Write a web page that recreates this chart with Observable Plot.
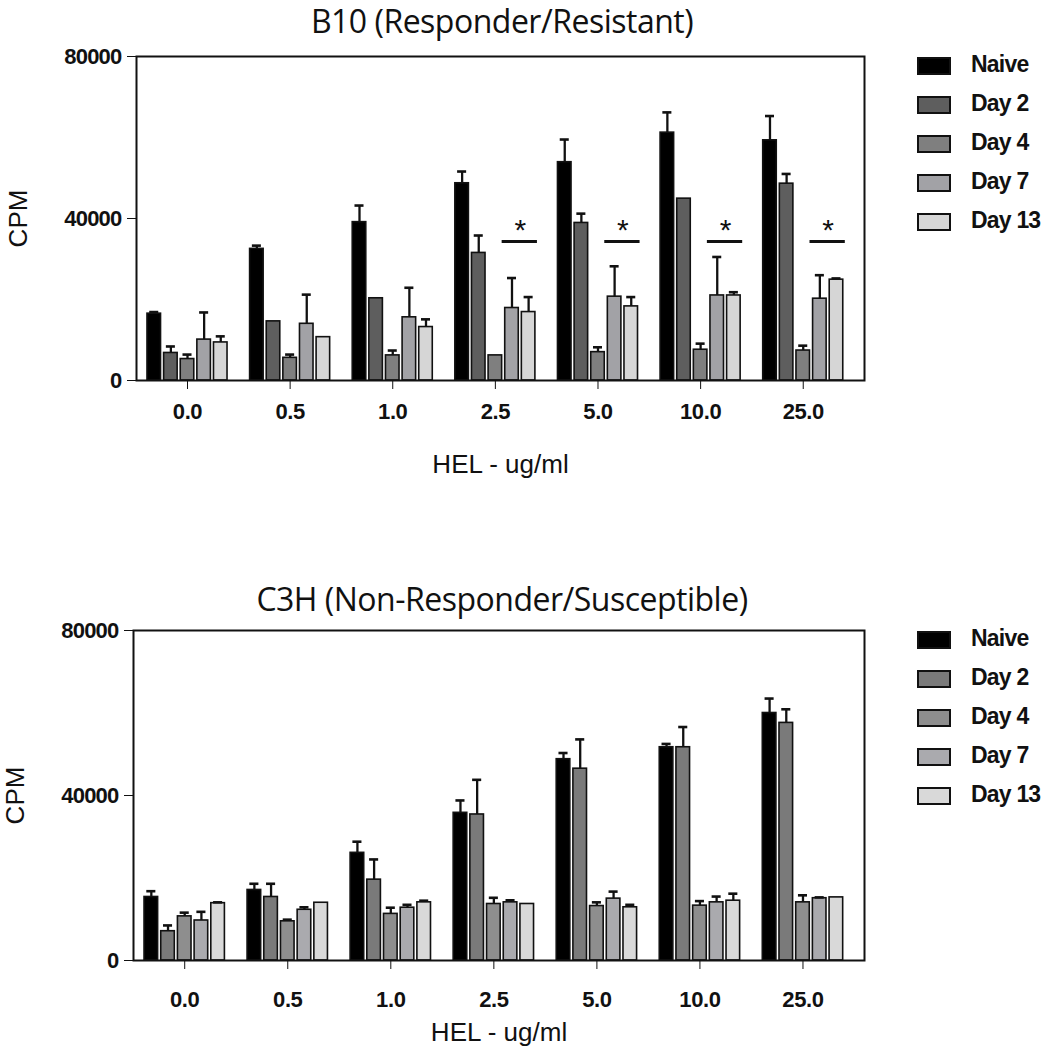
<!DOCTYPE html>
<html><head><meta charset="utf-8">
<script src="https://cdn.jsdelivr.net/npm/d3@7"></script>
<script src="https://cdn.jsdelivr.net/npm/@observablehq/plot@0.6"></script>
<style>
body{margin:0;background:#fff;width:1041px;height:1050px;position:relative;overflow:hidden;font-family:"Liberation Sans",Arial,sans-serif;color:#111}
.title{position:absolute;left:0;width:1004px;text-align:center;font-family:"Open Sans";font-size:32px;color:#111;line-height:42px;letter-spacing:-0.5px}
.chart{position:absolute;left:0}
.legend{position:absolute;left:917px}
.row{position:absolute;left:0;height:18px;white-space:nowrap}
.sw{position:absolute;left:0;top:0;width:30px;height:14px;border:2px solid #111}
.lab{position:absolute;left:54px;top:-6px;font:bold 23px "Liberation Sans";letter-spacing:-0.8px;color:#111}
svg g[aria-label="y-axis tick label"] text{font-weight:bold;font-size:22px;letter-spacing:-0.8px}
svg g[aria-label="x-axis tick label"] text{font-weight:bold;font-size:22px;letter-spacing:-0.4px}
svg g[aria-label="y-axis label"] text, svg g[aria-label="x-axis label"] text{font-size:26px;font-weight:normal}
</style>
</head><body>
<script>
// ---- data ----
const groups = ["0.0", "0.5", "1.0", "2.5", "5.0", "10.0", "25.0"];
const series = ["Naive", "Day 2", "Day 4", "Day 7", "Day 13"];
const yTicks = [0, 40000, 80000];

// B10 (Responder/Resistant): mean CPM and SEM per HEL dose
const b10Naive = [16500, 32500, 39100, 48700, 53900, 61200, 59300];
const b10Day2  = [6800, 14600, 20300, 31500, 38900, 44900, 48600];
const b10Day4  = [5300, 5600, 6200, 6200, 7000, 7600, 7400];
const b10Day7  = [10100, 14000, 15600, 17900, 20700, 21000, 20200];
const b10Day13 = [9400, 10700, 13200, 16900, 18300, 21000, 24900];
const b10NaiveErr = [400, 800, 4100, 2900, 5600, 5000, 6000];
const b10Day2Err  = [1600, 0, 0, 4300, 2300, 0, 2400];
const b10Day4Err  = [1100, 800, 1200, 0, 1200, 1500, 1200];
const b10Day7Err  = [6700, 7200, 7300, 7400, 7500, 9500, 5800];
const b10Day13Err = [1500, 0, 1900, 3700, 2300, 800, 300];
const b10SigGroups = ["2.5", "5.0", "10.0", "25.0"];

// C3H (Non-Responder/Susceptible)
const c3hNaive = [15400, 17100, 26100, 35800, 48800, 51700, 60000];
const c3hDay2  = [7100, 15400, 19600, 35400, 46500, 51700, 57600];
const c3hDay4  = [10700, 9500, 11300, 13700, 13200, 13300, 14100];
const c3hDay7  = [9700, 12300, 12800, 14100, 15000, 14100, 15100];
const c3hDay13 = [13900, 14000, 14100, 13700, 12900, 14500, 15300];
const c3hNaiveErr = [1400, 1500, 2700, 3000, 1500, 800, 3500];
const c3hDay2Err  = [1400, 3200, 4900, 8400, 7100, 4900, 3300];
const c3hDay4Err  = [900, 400, 1500, 1500, 900, 1100, 1700];
const c3hDay7Err  = [2100, 600, 700, 500, 1700, 1400, 200];
const c3hDay13Err = [200, 0, 400, 0, 600, 1700, 0];

const b10Colors = ["#000000", "#5e5e5e", "#7f7f7f", "#a2a2a6", "#d6d6d6"];
const c3hColors = ["#000000", "#7a7a7a", "#8e8e8e", "#aaaaae", "#d9d9d9"];

// ---- layout constants ----
const STEP = 0.162, HW = 0.066, CAP = 0.044;
const SIG_LEVEL = 34300;

function rowsOf(values, errs) {
  const rows = [];
  series.forEach((s, si) => groups.forEach((g, gi) => {
    rows.push({g, gi, s, si, x: gi + (si - 2) * STEP, value: values[si][gi], err: errs[si][gi]});
  }));
  return rows;
}

function chart({values, errs, colors, sig, marginLeft, top, height, marginBottom, tickPadding, labelOffset}) {
  const rows = rowsOf(values, errs);
  const withErr = rows.filter(d => d.err > 0);
  const sigRows = sig.map(g => ({gi: groups.indexOf(g)}));
  const marks = [
    Plot.rectY(rows, {x1: d => d.x - HW, x2: d => d.x + HW, y1: 0, y2: "value", fill: "s", stroke: "#111", strokeWidth: 1.6}),
    Plot.ruleX(withErr, {x: "x", y1: "value", y2: d => d.value + d.err, stroke: "#111", strokeWidth: 2.3}),
    Plot.ruleY(withErr, {y: d => d.value + d.err, x1: d => d.x - CAP, x2: d => d.x + CAP, stroke: "#111", strokeWidth: 2.6}),
    Plot.ruleY(sigRows, {y: SIG_LEVEL, x1: d => d.gi + STEP - HW - 0.03, x2: d => d.gi + 2 * STEP + HW + 0.02, stroke: "#111", strokeWidth: 3}),
    Plot.text(sigRows, {x: d => d.gi + 1.5 * STEP, y: SIG_LEVEL, text: () => "*", fontSize: 30, dy: -11, fill: "#111"}),
    Plot.frame({stroke: "#111", strokeWidth: 2}),
    Plot.axisY({ticks: yTicks, tickFormat: d => String(d), tickSize: 9, tickPadding: 6, label: "CPM", labelArrow: "none", labelAnchor: "center", labelOffset: 128}),
    Plot.axisX({ticks: d3.range(groups.length), tickFormat: i => groups[i], tickSize: 9, tickPadding, label: "HEL - ug/ml", labelArrow: "none", labelAnchor: "center", labelOffset})
  ];
  const svg = Plot.plot({
    width: 880, height, marginLeft, marginRight: 16, marginTop: 16, marginBottom,
    style: {fontFamily: "Liberation Sans", color: "#111", background: "transparent", overflow: "visible"},
    x: {domain: [-0.497, 6.597], axis: null},
    y: {domain: [0, 80000], axis: null},
    color: {domain: series, range: colors},
    marks
  });
  const wrap = document.createElement("div");
  wrap.className = "chart";
  wrap.style.top = top + "px";
  wrap.appendChild(svg);
  document.body.appendChild(wrap);
}

function title(text, top) {
  const d = document.createElement("div");
  d.className = "title"; d.style.top = top + "px"; d.textContent = text;
  document.body.appendChild(d);
}

function legend(colors, top) {
  const lg = document.createElement("div");
  lg.className = "legend"; lg.style.top = top + "px";
  series.forEach((s, i) => {
    const r = document.createElement("div");
    r.className = "row"; r.style.top = (i * 39) + "px";
    const sw = document.createElement("div"); sw.className = "sw"; sw.style.background = colors[i];
    const lb = document.createElement("div"); lb.className = "lab"; lb.textContent = s;
    r.appendChild(sw); r.appendChild(lb); lg.appendChild(r);
  });
  document.body.appendChild(lg);
}

title("B10 (Responder/Resistant)", 0);
chart({values: [b10Naive, b10Day2, b10Day4, b10Day7, b10Day13],
       errs: [b10NaiveErr, b10Day2Err, b10Day4Err, b10Day7Err, b10Day13Err],
       colors: b10Colors, sig: b10SigGroups, marginLeft: 136, top: 40, height: 420, marginBottom: 80,
       tickPadding: 14, labelOffset: 92});
legend(b10Colors, 57);

title("C3H (Non-Responder/Susceptible)", 578);
chart({values: [c3hNaive, c3hDay2, c3hDay4, c3hDay7, c3hDay13],
       errs: [c3hNaiveErr, c3hDay2Err, c3hDay4Err, c3hDay7Err, c3hDay13Err],
       colors: c3hColors, sig: [], marginLeft: 133, top: 614, height: 436, marginBottom: 90,
       tickPadding: 22, labelOffset: 80});
legend(c3hColors, 631);
</script>
</body></html>
